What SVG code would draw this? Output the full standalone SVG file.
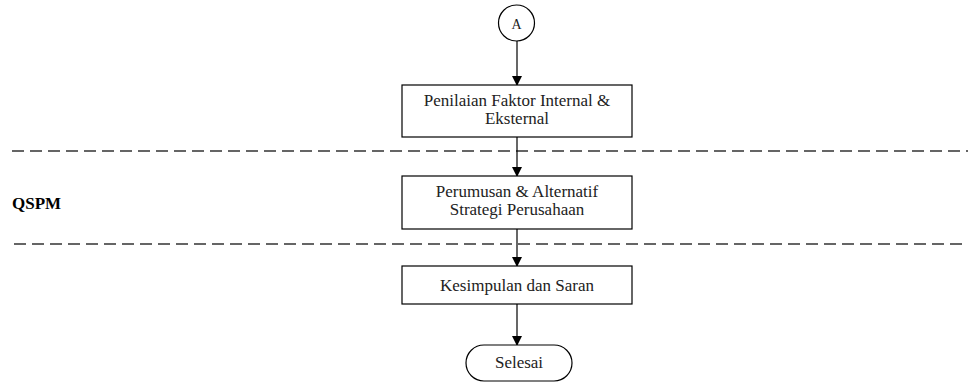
<svg xmlns="http://www.w3.org/2000/svg" width="968" height="383" viewBox="0 0 968 383">
<defs>
<marker id="arr" markerWidth="10" markerHeight="10" refX="9" refY="5" orient="auto" markerUnits="userSpaceOnUse">
<path d="M0,0 L10,5 L0,10 Z" fill="#000"/>
</marker>
<style>
.n{fill:#fff;stroke:#000;stroke-width:1.2}
.t{font-family:"Liberation Serif","Times New Roman",serif;font-size:17px;fill:#222;text-anchor:middle}
.c{stroke:#000;stroke-width:1.2;fill:none;marker-end:url(#arr)}
.d{stroke:#333;stroke-width:1.5;stroke-dasharray:12 6;fill:none}
</style>
</defs>
<rect width="968" height="383" fill="#fff"/>
<g id="lanes">
<line class="d" x1="12" y1="151" x2="968" y2="151"/>
<line class="d" x1="14" y1="244" x2="968" y2="244"/>
<text x="12" y="209" style="font-family:'Liberation Serif','Times New Roman',serif;font-size:17px;font-weight:bold;fill:#000">QSPM</text>
</g>
<g id="connectors">
<line class="c" x1="517" y1="41" x2="517" y2="85"/>
<line class="c" x1="517" y1="137" x2="517" y2="176"/>
<line class="c" x1="517" y1="229" x2="517" y2="266"/>
<line class="c" x1="517" y1="304" x2="517" y2="345"/>
</g>
<g id="nodeA">
<circle class="n" cx="516.5" cy="23" r="18"/>
<text class="t" x="516.5" y="28.5" style="font-size:14px">A</text>
</g>
<g id="node1">
<rect class="n" x="402" y="85" width="230" height="52"/>
<text class="t" x="517" y="106">Penilaian Faktor Internal &amp;</text>
<text class="t" x="517" y="124">Eksternal</text>
</g>
<g id="node2">
<rect class="n" x="402" y="176" width="230" height="53"/>
<text class="t" x="517" y="197">Perumusan &amp; Alternatif</text>
<text class="t" x="517" y="215">Strategi Perusahaan</text>
</g>
<g id="node3">
<rect class="n" x="402" y="266" width="230" height="38"/>
<text class="t" x="517" y="291">Kesimpulan dan Saran</text>
</g>
<g id="end">
<rect class="n" x="466" y="345" width="106" height="36" rx="18" ry="18"/>
<text class="t" x="519" y="368">Selesai</text>
</g>
</svg>
